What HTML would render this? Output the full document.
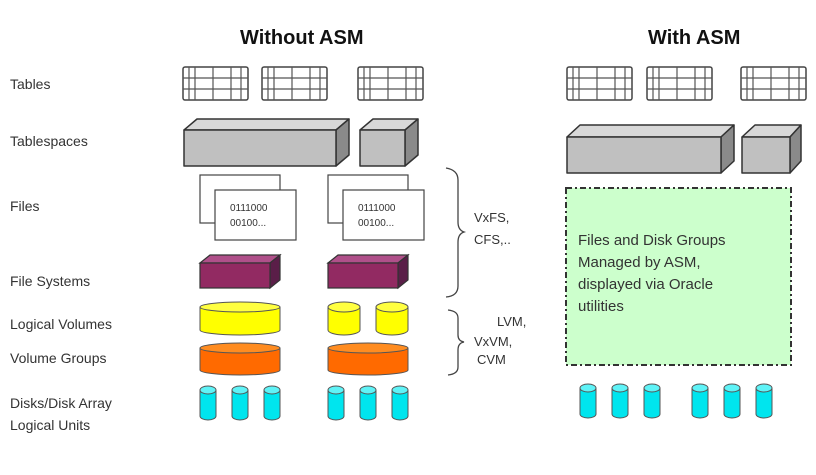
<!DOCTYPE html>
<html><head><style>
html,body{margin:0;padding:0;background:#fff}
svg{display:block}
text{font-family:"Liberation Sans",sans-serif;fill:#333}
</style></head><body>
<svg width="816" height="475" viewBox="0 0 816 475" xmlns="http://www.w3.org/2000/svg">
<defs>
<g id="tbl">
<rect x="0" y="0" width="65" height="33" rx="2" fill="#fff" stroke="#444" stroke-width="1.5"/>
<path d="M0 11H65M0 22H65M6 0V33M12 0V33M30 0V33M48 0V33M58 0V33" stroke="#555" stroke-width="1.2" fill="none"/>
</g>
<g id="disk">
<path d="M0 4V30A8 4 0 0 0 16 30V4" fill="#00e5ee" stroke="#555" stroke-width="1"/>
<ellipse cx="8" cy="4" rx="8" ry="4" fill="#5ff3f7" stroke="#555" stroke-width="1"/>
</g>
<g id="file">
<rect x="0" y="0" width="80" height="48" fill="#fff" stroke="#444" stroke-width="1.2"/>
<rect x="15" y="15" width="81" height="50" fill="#fff" stroke="#444" stroke-width="1.2"/>
<text x="30" y="36" font-size="10">0111000</text>
<text x="30" y="51" font-size="10">00100...</text>
</g>
</defs>

<text x="240" y="44" font-size="20" font-weight="bold" style="fill:#111">Without ASM</text>
<text x="648" y="44" font-size="20" font-weight="bold" style="fill:#111">With ASM</text>

<g font-size="14">
<text x="10" y="89">Tables</text>
<text x="10" y="146">Tablespaces</text>
<text x="10" y="211">Files</text>
<text x="10" y="286">File Systems</text>
<text x="10" y="329">Logical Volumes</text>
<text x="10" y="363">Volume Groups</text>
<text x="10" y="408">Disks/Disk Array</text>
<text x="10" y="430">Logical Units</text>
</g>

<use href="#tbl" x="183" y="67"/><use href="#tbl" x="262" y="67"/><use href="#tbl" x="358" y="67"/>
<use href="#tbl" x="567" y="67"/><use href="#tbl" x="647" y="67"/><use href="#tbl" x="741" y="67"/>

<!-- tablespaces left -->
<g stroke="#333" stroke-width="1.5" stroke-linejoin="round">
<path d="M184 130L197 119H349L336 130Z" fill="#d8d8d8"/>
<path d="M336 130L349 119V155L336 166Z" fill="#8a8a8a"/>
<rect x="184" y="130" width="152" height="36" fill="#c0c0c0"/>
<path d="M360 130L373 119H418L405 130Z" fill="#d8d8d8"/>
<path d="M405 130L418 119V155L405 166Z" fill="#8a8a8a"/>
<rect x="360" y="130" width="45" height="36" fill="#c0c0c0"/>
<!-- right -->
<path d="M567 137L580 125H734L721 137Z" fill="#d8d8d8"/>
<path d="M721 137L734 125V161L721 173Z" fill="#8a8a8a"/>
<rect x="567" y="137" width="154" height="36" fill="#c0c0c0"/>
<path d="M742 137L755 125H801L790 137Z" fill="#d8d8d8"/>
<path d="M790 137L801 125V161L790 173Z" fill="#8a8a8a"/>
<rect x="742" y="137" width="48" height="36" fill="#c0c0c0"/>
</g>

<use href="#file" x="200" y="175"/><use href="#file" x="328" y="175"/>

<!-- file systems -->
<g stroke="#333" stroke-width="1.2">
<path d="M200 263L210 255H280L270 263Z" fill="#b0508a"/>
<path d="M270 263L280 255V280L270 288Z" fill="#5a1e48"/>
<rect x="200" y="263" width="70" height="25" fill="#922a62"/>
<path d="M328 263L338 255H408L398 263Z" fill="#b0508a"/>
<path d="M398 263L408 255V280L398 288Z" fill="#5a1e48"/>
<rect x="328" y="263" width="70" height="25" fill="#922a62"/>
</g>

<!-- yellow -->
<g stroke="#555" stroke-width="1">
<path d="M200 307V330A40 5 0 0 0 280 330V307" fill="#ffff00"/><ellipse cx="240" cy="307" rx="40" ry="5" fill="#ffff40"/>
<path d="M328 307V330A16 5 0 0 0 360 330V307" fill="#ffff00"/><ellipse cx="344" cy="307" rx="16" ry="5" fill="#ffff40"/>
<path d="M376 307V330A16 5 0 0 0 408 330V307" fill="#ffff00"/><ellipse cx="392" cy="307" rx="16" ry="5" fill="#ffff40"/>
<path d="M200 348V370A40 5 0 0 0 280 370V348" fill="#ff6a00"/><ellipse cx="240" cy="348" rx="40" ry="5" fill="#ff8c20"/>
<path d="M328 348V370A40 5 0 0 0 408 370V348" fill="#ff6a00"/><ellipse cx="368" cy="348" rx="40" ry="5" fill="#ff8c20"/>
</g>

<use href="#disk" x="200" y="386"/><use href="#disk" x="232" y="386"/><use href="#disk" x="264" y="386"/>
<use href="#disk" x="328" y="386"/><use href="#disk" x="360" y="386"/><use href="#disk" x="392" y="386"/>
<use href="#disk" x="580" y="384"/><use href="#disk" x="612" y="384"/><use href="#disk" x="644" y="384"/>
<use href="#disk" x="692" y="384"/><use href="#disk" x="724" y="384"/><use href="#disk" x="756" y="384"/>

<!-- braces -->
<path d="M446 168Q458 170 458 180V222Q458 230 464 232Q458 234 458 242V286Q458 296 446 297" fill="none" stroke="#444" stroke-width="1.3"/>
<path d="M448 310Q458 311 458 318V335Q458 341 464 342Q458 343 458 350V367Q458 374 448 375" fill="none" stroke="#444" stroke-width="1.3"/>
<g font-size="13">
<text x="474" y="222">VxFS,</text>
<text x="474" y="244">CFS,..</text>
<text x="497" y="326">LVM,</text>
<text x="474" y="346">VxVM,</text>
<text x="477" y="364">CVM</text>
</g>

<rect x="566" y="188" width="225" height="177" fill="#ccffcc" stroke="#333" stroke-width="2" stroke-dasharray="6,3,2,3"/>
<g font-size="15">
<text x="578" y="245">Files and Disk Groups</text>
<text x="578" y="267">Managed by ASM,</text>
<text x="578" y="289">displayed via Oracle</text>
<text x="578" y="311">utilities</text>
</g>
</svg>
</body></html>
